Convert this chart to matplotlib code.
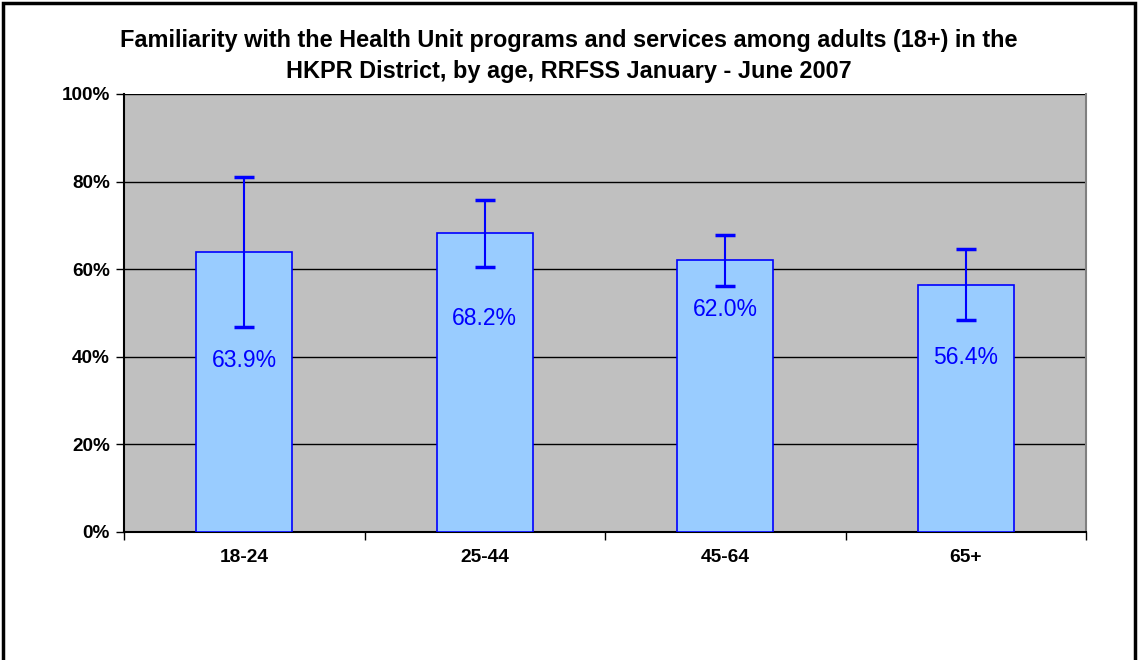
import matplotlib.pyplot as plt
import numpy as np
from matplotlib.patches import Rectangle

plt.rcParams['font.family'] = ['Liberation Sans', 'DejaVu Sans']

#-------- data -----------------------------#
age_groups = ['18-24', '25-44', '45-64', '65+']
pct        = [63.9, 68.2, 62.0, 56.4]
err        = [17.1, 7.7, 5.9, 8.1]   # 95% CI half widths (approx)
yticks     = [0, 20, 40, 60, 80, 100]

# how far (points) each value label sits below the lower error bar end
label_drop = [24, 37, 17, 27]

title = ("Familiarity with the Health Unit programs and services among adults (18+) in the\n"
         "HKPR District, by age, RRFSS January - June 2007")

fig = plt.figure(figsize=(11.38, 6.6), dpi=100)
ax = fig.add_axes([124/1138, 1-532/660, (1086-124)/1138, (532-94)/660])

# frame around the whole chart
fig.patches.append(Rectangle((3/1138, -0.05), 1132/1138, 1.05 - 3/660, transform=fig.transFigure,
                             fill=False, edgecolor='black', linewidth=2.5, zorder=10))

x = np.arange(len(age_groups))
ax.set_facecolor('#C0C0C0')
ax.bar(x, pct, width=0.4, color='#99CCFF', edgecolor='#0000FF', linewidth=1.2, zorder=3)
ax.errorbar(x, pct, yerr=err, fmt='none', ecolor='#0000FF', elinewidth=1.5,
            capsize=7.5, capthick=2.5, zorder=4)

# value labels under the lower error bar end
for xi, v, e, d in zip(x, pct, err, label_drop):
    ax.annotate(f'{v:.1f}%', (xi, v - e), xytext=(0, -d), textcoords='offset points',
                ha='center', va='center', fontsize=16.5, color='#0000FF', zorder=5)

ax.set_xlim(-0.5, len(age_groups) - 0.5)
ax.set_ylim(0, 100)
ax.set_yticks(yticks)
ax.set_yticklabels([f'{t}%' for t in yticks], fontsize=13.6, fontweight='bold')
ax.yaxis.grid(True, color='black', linewidth=1.0, zorder=0)
ax.set_axisbelow(True)

# category labels centred, ticks at category boundaries
ax.set_xticks(np.arange(len(age_groups) + 1) - 0.5)
ax.set_xticklabels([])
ax.set_xticks(x, minor=True)
ax.set_xticklabels(age_groups, minor=True, fontsize=13.8, fontweight='bold')
ax.tick_params(axis='x', which='minor', length=0, pad=12)
ax.tick_params(axis='x', which='major', length=6, width=1, direction='out')
ax.tick_params(axis='y', length=6, width=1, direction='out', pad=4)

for s in ['left', 'bottom']:
    ax.spines[s].set_linewidth(1.5)
    ax.spines[s].set_color('black')
ax.spines['top'].set_visible(False)
ax.spines['right'].set_color('#808080')
ax.spines['right'].set_linewidth(1.5)

fig.text(0.5, 1 - 56/660, title, ha='center', va='center', fontsize=16.9,
         fontweight='bold', linespacing=1.4)

fig.savefig('out.png', dpi=100)
